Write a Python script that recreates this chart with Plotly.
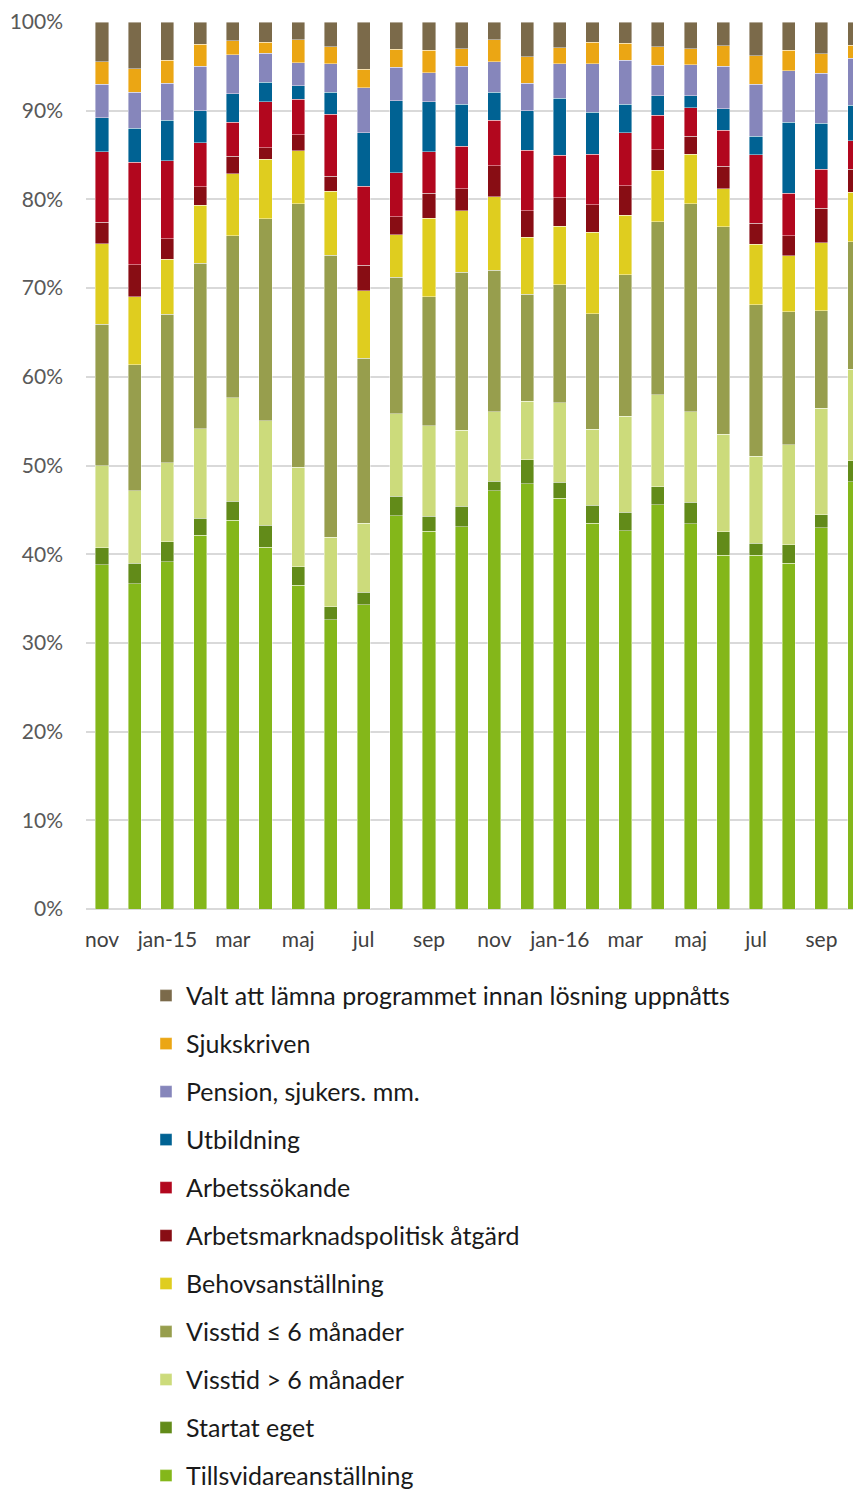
import plotly.graph_objects as go

months = ["nov", "dec", "jan-15", "feb", "mar", "apr", "maj", "jun", "jul", "aug", "sep", "okt",
          "nov", "dec", "jan-16", "feb", "mar", "apr", "maj", "jun", "jul", "aug", "sep", "okt"]
tick_labels = ["nov", "jan-15", "mar", "maj", "jul", "sep", "nov", "jan-16", "mar", "maj", "jul", "sep"]

tillsvidare = [38.8, 36.7, 39.2, 42.2, 43.8, 40.8, 36.5, 32.6, 34.3, 44.4, 42.6, 43.1,
               47.2, 48.0, 46.3, 43.5, 42.7, 45.6, 43.5, 39.9, 39.9, 39.0, 43.0, 48.2]
startat_eget = [1.9, 2.3, 2.3, 1.9, 2.1, 2.5, 2.1, 1.5, 1.4, 2.2, 1.7, 2.3,
                1.1, 2.7, 1.8, 2.0, 2.1, 2.0, 2.4, 2.7, 1.4, 2.1, 1.5, 2.4]
visstid_over6 = [9.3, 8.2, 8.9, 10.1, 11.7, 11.8, 11.2, 7.8, 7.8, 9.3, 10.2, 8.6,
                 7.8, 6.6, 9.0, 8.6, 10.8, 10.4, 10.2, 11.0, 9.8, 11.3, 12.0, 10.3]
visstid_under6 = [15.9, 14.2, 16.8, 18.7, 18.2, 22.8, 29.7, 31.8, 18.6, 15.4, 14.5, 17.8,
                  16.0, 12.1, 13.3, 13.0, 16.0, 19.5, 23.5, 23.4, 17.1, 15.0, 11.0, 14.4]
behov = [9.1, 7.7, 6.2, 6.5, 7.0, 6.7, 6.0, 7.2, 7.6, 4.8, 8.9, 6.9,
         8.3, 6.4, 6.6, 9.2, 6.7, 5.8, 5.6, 4.3, 6.8, 6.3, 7.7, 5.6]
amp = [2.4, 3.6, 2.3, 2.1, 2.0, 1.3, 1.8, 1.7, 2.9, 2.0, 2.8, 2.5,
       3.5, 3.0, 3.2, 3.1, 3.3, 2.3, 2.0, 2.5, 2.4, 2.3, 3.9, 2.6]
arbetssokande = [8.0, 11.6, 8.8, 5.0, 3.8, 5.2, 4.0, 7.0, 8.9, 5.0, 4.7, 4.8,
                 5.1, 6.8, 4.8, 5.7, 6.0, 3.9, 3.2, 4.1, 7.7, 4.8, 4.4, 3.2]
utbildning = [3.8, 3.8, 4.6, 3.6, 3.2, 2.2, 1.5, 2.5, 6.0, 8.1, 5.6, 4.7,
              3.2, 4.5, 6.4, 4.7, 3.2, 2.2, 1.4, 2.4, 2.1, 8.0, 5.2, 4.0]
pension = [3.8, 4.1, 4.2, 5.0, 4.4, 3.3, 2.6, 3.2, 5.1, 3.8, 3.3, 4.3,
           3.4, 3.1, 3.9, 5.5, 5.0, 3.4, 3.5, 4.8, 5.9, 5.8, 5.6, 5.3]
sjukskriven = [2.5, 2.6, 2.6, 2.5, 1.6, 1.2, 2.6, 1.9, 2.1, 2.0, 2.5, 2.0,
               2.5, 3.0, 1.8, 2.4, 1.9, 2.1, 1.8, 2.3, 3.2, 2.3, 2.2, 1.5]
valt_lamna = [4.5, 5.3, 4.3, 2.5, 2.1, 2.3, 2.0, 2.8, 5.3, 3.1, 3.2, 3.0,
              2.0, 3.9, 2.9, 2.3, 2.4, 2.8, 3.0, 2.7, 3.8, 3.2, 3.6, 2.6]

series = [
    ("Tillsvidareanställning", tillsvidare, "#84b71a"),
    ("Startat eget", startat_eget, "#628b19"),
    ("Visstid > 6 månader", visstid_over6, "#ccdb7b"),
    ("Visstid ≤ 6 månader", visstid_under6, "#979e4d"),
    ("Behovsanställning", behov, "#dfcd1f"),
    ("Arbetsmarknadspolitisk åtgärd", amp, "#880d14"),
    ("Arbetssökande", arbetssokande, "#b2071e"),
    ("Utbildning", utbildning, "#006293"),
    ("Pension, sjukers. mm.", pension, "#8686bb"),
    ("Sjukskriven", sjukskriven, "#eba614"),
    ("Valt att lämna programmet innan lösning uppnåtts", valt_lamna, "#7b6a4a"),
]

x_idx = list(range(len(months)))

fig = go.Figure()
for i, (name, vals, col) in enumerate(series):
    fig.add_trace(go.Bar(
        x=x_idx, y=vals, name=name, legendgroup=f"g{i}", legendrank=100 - i,
        marker=dict(color=col, line=dict(color="rgba(255,255,255,0.6)", width=0.7)),
        customdata=months,
        hovertemplate="%{customdata}: %{y:.1f}%<extra>" + name + "</extra>",
    ))

fig.update_layout(
    barmode="stack",
    barnorm="percent",
    bargap=0.6,
    width=853, height=1560,
    margin=dict(l=78, r=0, t=12, b=659),
    paper_bgcolor="white", plot_bgcolor="white",
    font=dict(family="Lato, 'Open Sans', sans-serif", color="#404040"),
    xaxis=dict(
        range=[-0.49, 23.21],
        tickmode="array", tickvals=x_idx[::2], ticktext=tick_labels,
        tickfont=dict(size=21, color="#404040"),
        showgrid=False, zeroline=False, showline=False, ticks="",
        ticklabelstandoff=16,
    ),
    yaxis=dict(
        range=[0, 100], dtick=10, ticksuffix="%",
        tickfont=dict(size=21, color="#595959"),
        showgrid=True, gridcolor="#d9d9d9", gridwidth=2,
        zeroline=True, zerolinecolor="#d9d9d9", zerolinewidth=2,
        showline=False, ticks="", ticklabelstandoff=22,
        ticklabeloverflow="allow",
    ),
    legend=dict(
        orientation="v", traceorder="grouped",
        x=60 / 775, xanchor="left",
        y=-0.072, yanchor="top",
        font=dict(size=25, color="#1a1a1a"),
        tracegroupgap=12.5,
        bgcolor="rgba(0,0,0,0)",
    ),
)

fig.write_html("out.html")
